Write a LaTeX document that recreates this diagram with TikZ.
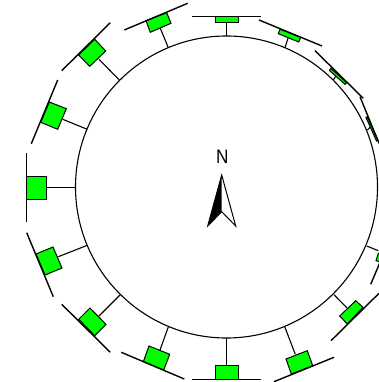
\documentclass[tikz,border=0pt]{standalone}
\usepackage{fontspec}
\setmainfont{Liberation Sans}
\definecolor{pv}{RGB}{0,255,0}
\tikzset{
  ring/.style={draw=black,line width=1.1pt},
  wall/.style={draw=black,line width=1.4pt},
  spoke/.style={draw=black,line width=1.1pt},
  unit/.style={draw=black,fill=pv,line width=1pt,line join=miter},
  label/.style={font=\fontsize{19.5}{19.5}\selectfont,inner sep=0pt,text=black,xscale=0.88}
}
\begin{document}
\begin{tikzpicture}[x=1pt,y=-1pt]
\useasboundingbox (0,0) rectangle (379,382);
\clip (0,0) rectangle (379,382);
\fill[white] (0,0) rectangle (379,382);
\draw[ring] (226.5,187) circle[radius=151];
% W
\draw[spoke] (46,187.5) -- (75.5,187.5);
\draw[unit] (26.5,176) -- (46,176) -- (46,199) -- (26.5,199) -- cycle;
\draw[wall] (26.5,153) -- (26.5,222);
% WNW
\draw[spoke] (62.7,119.3) -- (87.3,129.3);
\draw[unit] (49.3,102) -- (66.3,108.7) -- (57.7,129.3) -- (40.7,122.3) -- cycle;
\draw[wall] (57.7,80) -- (31.3,143.7);
% NW
\draw[spoke] (99,59.3) -- (119.3,80);
\draw[unit] (94.7,39.3) -- (105.7,51) -- (89.7,66.3) -- (78.7,55) -- cycle;
\draw[wall] (110.3,22.7) -- (61.7,70.7);
% NNW
\draw[spoke] (160.3,28.3) -- (168.3,47.7);
\draw[unit] (166.7,12.7) -- (171,23.3) -- (150.3,32.3) -- (146,20.7) -- cycle;
\draw[wall] (187.7,3.3) -- (124.3,30);
% N
\draw[spoke] (226.7,23) -- (226.7,36);
\draw[unit] (215,16.7) -- (238.3,16.7) -- (238.3,23) -- (215,23) -- cycle;
\draw[wall] (192,16.7) -- (261,16.7);
% NNE
\draw[spoke] (288,38.3) -- (285,47.7);
\draw[unit] (280,29.3) -- (300.7,37.3) -- (298.7,42) -- (278.3,33.7) -- cycle;
\draw[wall] (259,20) -- (322,46);
% NE
\draw[spoke] (336,76) -- (333.3,80);
\draw[unit] (330.7,68.3) -- (346.7,82.7) -- (345,84.3) -- (329.5,70.5) -- cycle;
\draw[wall] (315,50.7) -- (363.3,98.3);
% ENE
\draw[spoke] (370,127.3) -- (367.3,130);
\draw[unit] (367.3,116.7) -- (378,140) -- (376.5,141) -- (366,117.5) -- cycle;
\draw[wall] (360,96.7) -- (379,143.3);
% ESE
\draw[spoke] (366.7,246) -- (378.3,250.7);
\draw[unit] (378.3,253.3) -- (376,260.7) -- (386,264) -- (388,257) -- cycle;
\draw[wall] (370.7,284.3) -- (381,260);
% SE
\draw[spoke] (347,308) -- (334,294.7);
\draw[unit] (355.7,300.7) -- (363,307.3) -- (347.3,324) -- (339.7,316) -- cycle;
\draw[wall] (331,340.7) -- (379,293.3);
% SSE
\draw[spoke] (295.3,354.3) -- (284.7,326.7);
\draw[unit] (286,359) -- (307.3,350.7) -- (312.7,365.7) -- (291.3,374) -- cycle;
\draw[wall] (274,381.7) -- (334,357.3);
% S
\draw[spoke] (226.7,365) -- (226.7,338);
\draw[unit] (215,365) -- (238.3,365) -- (238.3,379.7) -- (215,379.7) -- cycle;
\draw[wall] (192,379.7) -- (261,379.7);
% SSW
\draw[spoke] (160,350) -- (168.3,327);
\draw[unit] (149,346) -- (169.7,354.3) -- (163.7,370) -- (143.3,361.7) -- cycle;
\draw[wall] (121.3,352.3) -- (184.3,379);
% SW
\draw[spoke] (99,316) -- (120,295);
\draw[unit] (90,308) -- (106,324.3) -- (94.7,335.7) -- (78.7,319.3) -- cycle;
\draw[wall] (61.7,304.3) -- (110.3,352.3);
% WSW
\draw[spoke] (58.3,256.7) -- (87.3,245.3);
\draw[unit] (53,247) -- (62,268) -- (45,275) -- (36,254) -- cycle;
\draw[wall] (26.7,232.7) -- (53.3,296.7);
% North arrow
\fill[black] (221.7,175) -- (221.7,211.7) -- (207.7,226) -- cycle;
\draw[black,line width=1pt,line join=miter] (221.7,175) -- (235.7,226) -- (221.7,211.7) -- (207.7,226) -- cycle;
\node[label] (north) at (222.3,157) {N};
\end{tikzpicture}
\end{document}
